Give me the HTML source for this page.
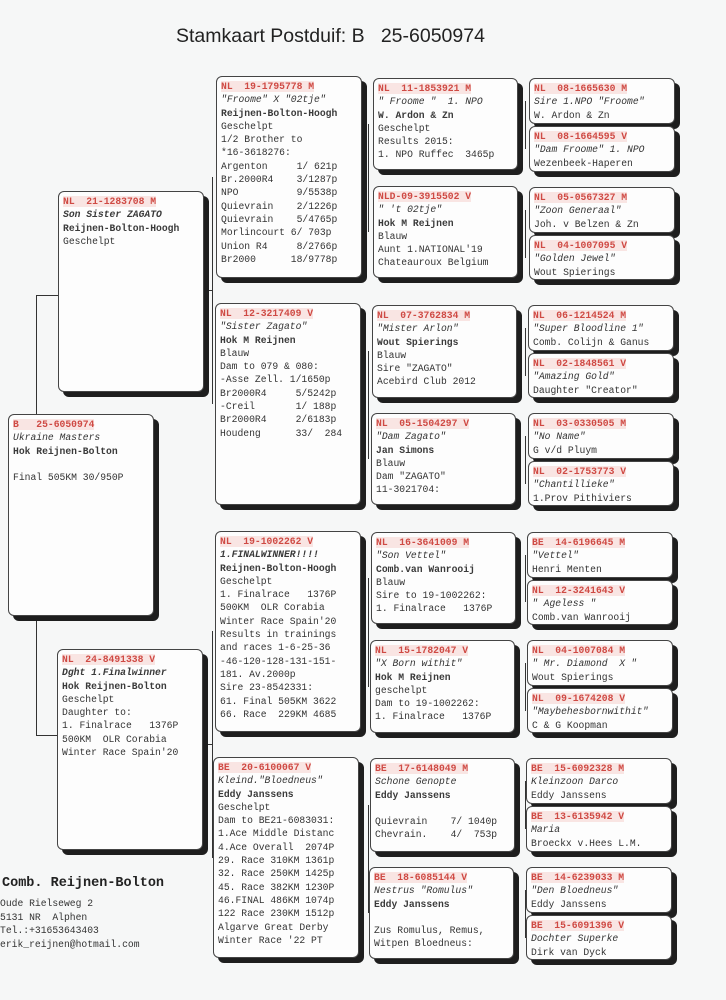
<!DOCTYPE html>
<html><head><meta charset="utf-8"><style>
body{margin:0;background:#f6f7f7;width:726px;height:1000px;position:relative;overflow:hidden;font-family:"Liberation Mono",monospace;}
.b{position:absolute;background:#fdfdfd;border:1px solid #444;border-radius:6px;box-shadow:5px 5px 0 #1e1e1e;box-sizing:border-box;padding:3px 0 0 4px;font-size:9.7px;line-height:13.3px;color:#333;white-space:pre;overflow:hidden}
.r{color:#cf4a44;font-weight:bold;background:rgba(240,170,160,.28)}
.i{font-style:italic}
.o{font-weight:bold;color:#3a3a3a}
.l{position:absolute;background:#333}
.t{position:absolute;left:176px;top:25px;font-family:"Liberation Sans",sans-serif;font-size:19.5px;color:#222;white-space:pre}
</style></head><body>
<div class="t">Stamkaart Postduif: B   25-6050974</div>

<!-- connectors -->
<div class="l" style="left:36px;top:295px;width:1px;height:441px"></div>
<div class="l" style="left:36px;top:295px;width:22px;height:1px"></div>
<div class="l" style="left:36px;top:735px;width:21px;height:1px"></div>
<div class="l" style="left:212px;top:177px;width:1px;height:227px"></div>
<div class="l" style="left:209px;top:290px;width:4px;height:1px"></div>
<div class="l" style="left:212px;top:631px;width:1px;height:227px"></div>
<div class="l" style="left:208px;top:744px;width:5px;height:1px"></div>
<div class="l" style="left:368px;top:124px;width:1px;height:108px"></div>
<div class="l" style="left:368px;top:351px;width:1px;height:108px"></div>
<div class="l" style="left:368px;top:578px;width:1px;height:109px"></div>
<div class="l" style="left:368px;top:805px;width:1px;height:108px"></div>
<div class="l" style="left:525px;top:101px;width:1px;height:48px"></div>
<div class="l" style="left:525px;top:210px;width:1px;height:48px"></div>
<div class="l" style="left:525px;top:328px;width:1px;height:48px"></div>
<div class="l" style="left:525px;top:436px;width:1px;height:48px"></div>
<div class="l" style="left:525px;top:555px;width:1px;height:47px"></div>
<div class="l" style="left:525px;top:663px;width:1px;height:48px"></div>
<div class="l" style="left:525px;top:781px;width:1px;height:48px"></div>
<div class="l" style="left:525px;top:890px;width:1px;height:48px"></div>

<!-- gen1 -->
<div class="b" style="left:8px;top:414px;width:146px;height:202px"><span class="r">B   25-6050974</span>
<span class="i">Ukraine Masters</span>
<span class="o">Hok Reijnen-Bolton</span>

Final 505KM 30/950P</div>

<!-- gen2 -->
<div class="b" style="left:58px;top:191px;width:146px;height:201px"><span class="r">NL  21-1283708 M</span>
<span class="i o">Son Sister ZAGATO</span>
<span class="o">Reijnen-Bolton-Hoogh</span>
Geschelpt</div>
<div class="b" style="left:57px;top:649px;width:146px;height:201px"><span class="r">NL  24-8491338 V</span>
<span class="i o">Dght 1.Finalwinner</span>
<span class="o">Hok Reijnen-Bolton</span>
Geschelpt
Daughter to:
1. Finalrace   1376P
500KM  OLR Corabia
Winter Race Spain'20</div>

<!-- gen3 -->
<div class="b" style="left:216px;top:76px;width:146px;height:202px"><span class="r">NL  19-1795778 M</span>
<span class="i">"Froome" X "02tje"</span>
<span class="o">Reijnen-Bolton-Hoogh</span>
Geschelpt
1/2 Brother to
*16-3618276:
Argenton     1/ 621p
Br.2000R4    3/1287p
NPO          9/5538p
Quievrain    2/1226p
Quievrain    5/4765p
Morlincourt 6/ 703p
Union R4     8/2766p
Br2000      18/9778p</div>
<div class="b" style="left:215px;top:303px;width:146px;height:202px"><span class="r">NL  12-3217409 V</span>
<span class="i">"Sister Zagato"</span>
<span class="o">Hok M Reijnen</span>
Blauw
Dam to 079 &amp; 080:
-Asse Zell. 1/1650p
Br2000R4     5/5242p
-Creil       1/ 188p
Br2000R4     2/6183p
Houdeng      33/  284</div>
<div class="b" style="left:215px;top:531px;width:146px;height:201px"><span class="r">NL  19-1002262 V</span>
<span class="i o">1.FINALWINNER!!!!</span>
<span class="o">Reijnen-Bolton-Hoogh</span>
Geschelpt
1. Finalrace   1376P
500KM  OLR Corabia
Winter Race Spain'20
Results in trainings
and races 1-6-25-36
-46-120-128-131-151-
181. Av.2000p
Sire 23-8542331:
61. Final 505KM 3622
66. Race  229KM 4685</div>
<div class="b" style="left:213px;top:757px;width:146px;height:201px"><span class="r">BE  20-6100067 V</span>
<span class="i">Kleind."Bloedneus"</span>
<span class="o">Eddy Janssens</span>
Geschelpt
Dam to BE21-6083031:
1.Ace Middle Distanc
4.Ace Overall  2074P
29. Race 310KM 1361p
32. Race 250KM 1425p
45. Race 382KM 1230P
46.FINAL 486KM 1074p
122 Race 230KM 1512p
Algarve Great Derby
Winter Race '22 PT</div>

<!-- gen4 -->
<div class="b" style="left:373px;top:78px;width:145px;height:92px"><span class="r">NL  11-1853921 M</span>
<span class="i">" Froome "  1. NPO</span>
<span class="o">W. Ardon &amp; Zn</span>
Geschelpt
Results 2015:
1. NPO Ruffec  3465p</div>
<div class="b" style="left:373px;top:186px;width:145px;height:92px"><span class="r">NLD-09-3915502 V</span>
<span class="i">" 't 02tje"</span>
<span class="o">Hok M Reijnen</span>
Blauw
Aunt 1.NATIONAL'19
Chateauroux Belgium</div>
<div class="b" style="left:372px;top:305px;width:145px;height:93px"><span class="r">NL  07-3762834 M</span>
<span class="i">"Mister Arlon"</span>
<span class="o">Wout Spierings</span>
Blauw
Sire "ZAGATO"
Acebird Club 2012</div>
<div class="b" style="left:371px;top:413px;width:145px;height:92px"><span class="r">NL  05-1504297 V</span>
<span class="i">"Dam Zagato"</span>
<span class="o">Jan Simons</span>
Blauw
Dam "ZAGATO"
11-3021704:</div>
<div class="b" style="left:371px;top:532px;width:145px;height:92px"><span class="r">NL  16-3641009 M</span>
<span class="i">"Son Vettel"</span>
<span class="o">Comb.van Wanrooij</span>
Blauw
Sire to 19-1002262:
1. Finalrace   1376P</div>
<div class="b" style="left:370px;top:640px;width:145px;height:93px"><span class="r">NL  15-1782047 V</span>
<span class="i">"X Born withit"</span>
<span class="o">Hok M Reijnen</span>
geschelpt
Dam to 19-1002262:
1. Finalrace   1376P</div>
<div class="b" style="left:370px;top:758px;width:145px;height:94px"><span class="r">BE  17-6148049 M</span>
<span class="i">Schone Genopte</span>
<span class="o">Eddy Janssens</span>

Quievrain    7/ 1040p
Chevrain.    4/  753p</div>
<div class="b" style="left:369px;top:867px;width:145px;height:92px"><span class="r">BE  18-6085144 V</span>
<span class="i">Nestrus "Romulus"</span>
<span class="o">Eddy Janssens</span>

Zus Romulus, Remus,
Witpen Bloedneus:</div>

<!-- gen5 -->
<div class="b" style="left:529px;top:78px;width:146px;height:46px"><span class="r">NL  08-1665630 M</span>
<span class="i">Sire 1.NPO "Froome"</span>
W. Ardon &amp; Zn</div>
<div class="b" style="left:529px;top:126px;width:146px;height:46px"><span class="r">NL  08-1664595 V</span>
<span class="i">"Dam Froome" 1. NPO</span>
Wezenbeek-Haperen</div>
<div class="b" style="left:529px;top:187px;width:146px;height:46px"><span class="r">NL  05-0567327 M</span>
<span class="i">"Zoon Generaal"</span>
Joh. v Belzen &amp; Zn</div>
<div class="b" style="left:529px;top:235px;width:146px;height:45px"><span class="r">NL  04-1007095 V</span>
<span class="i">"Golden Jewel"</span>
Wout Spierings</div>
<div class="b" style="left:528px;top:305px;width:146px;height:46px"><span class="r">NL  06-1214524 M</span>
<span class="i">"Super Bloodline 1"</span>
Comb. Colijn &amp; Ganus</div>
<div class="b" style="left:528px;top:353px;width:146px;height:45px"><span class="r">NL  02-1848561 V</span>
<span class="i">"Amazing Gold"</span>
Daughter "Creator"</div>
<div class="b" style="left:528px;top:413px;width:146px;height:46px"><span class="r">NL  03-0330505 M</span>
<span class="i">"No Name"</span>
G v/d Pluym</div>
<div class="b" style="left:528px;top:461px;width:146px;height:45px"><span class="r">NL  02-1753773 V</span>
<span class="i">"Chantillieke"</span>
1.Prov Pithiviers</div>
<div class="b" style="left:527px;top:532px;width:146px;height:46px"><span class="r">BE  14-6196645 M</span>
<span class="i">"Vettel"</span>
Henri Menten</div>
<div class="b" style="left:527px;top:580px;width:146px;height:45px"><span class="r">NL  12-3241643 V</span>
<span class="i">" Ageless "</span>
Comb.van Wanrooij</div>
<div class="b" style="left:527px;top:640px;width:146px;height:46px"><span class="r">NL  04-1007084 M</span>
<span class="i">" Mr. Diamond  X "</span>
Wout Spierings</div>
<div class="b" style="left:527px;top:688px;width:146px;height:45px"><span class="r">NL  09-1674208 V</span>
<span class="i">"Maybehesbornwithit"</span>
C &amp; G Koopman</div>
<div class="b" style="left:526px;top:758px;width:146px;height:46px"><span class="r">BE  15-6092328 M</span>
<span class="i">Kleinzoon Darco</span>
Eddy Janssens</div>
<div class="b" style="left:526px;top:806px;width:146px;height:46px"><span class="r">BE  13-6135942 V</span>
<span class="i">Maria</span>
Broeckx v.Hees L.M.</div>
<div class="b" style="left:526px;top:867px;width:146px;height:46px"><span class="r">BE  14-6239033 M</span>
<span class="i">"Den Bloedneus"</span>
Eddy Janssens</div>
<div class="b" style="left:526px;top:915px;width:146px;height:45px"><span class="r">BE  15-6091396 V</span>
<span class="i">Dochter Superke</span>
Dirk van Dyck</div>

<!-- footer -->
<div style="position:absolute;left:2px;top:876px;font-size:13.5px;font-weight:bold;color:#222;white-space:pre">Comb. Reijnen-Bolton</div>
<div style="position:absolute;left:0px;top:897px;font-size:9.7px;line-height:13.6px;color:#333;white-space:pre">Oude Rielseweg 2
5131 NR  Alphen
Tel.:+31653643403
erik_reijnen@hotmail.com</div>
</body></html>
